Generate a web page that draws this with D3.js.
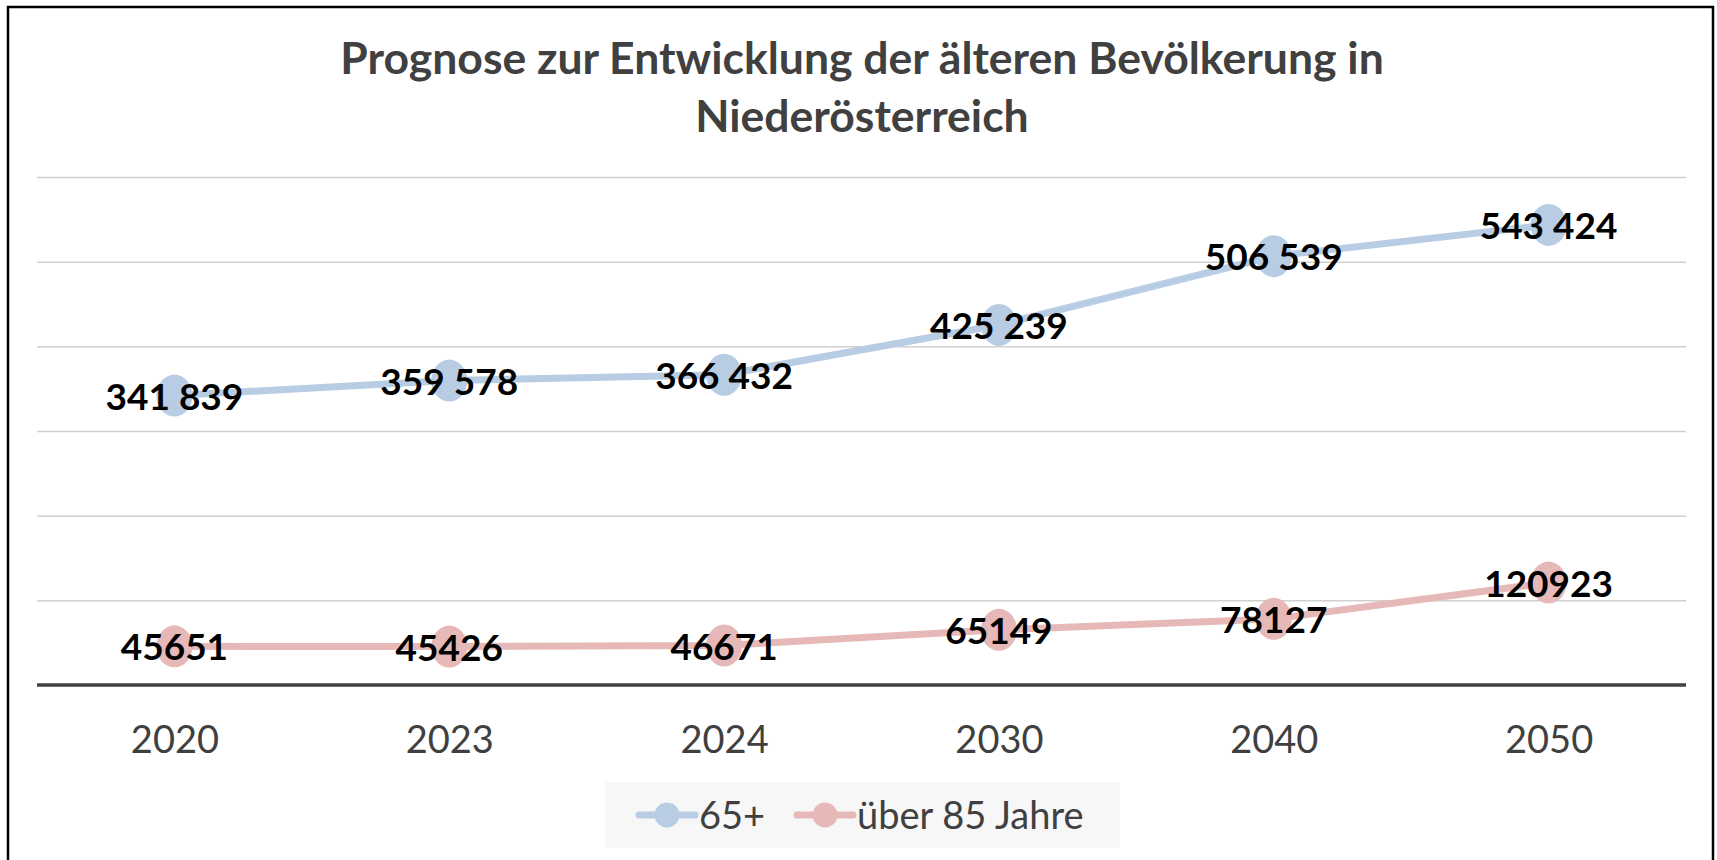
<!DOCTYPE html>
<html>
<head>
<meta charset="utf-8">
<script src="https://cdn.jsdelivr.net/npm/d3@7"></script>
<style>
  html, body { margin: 0; padding: 0; background: #fff; }
  svg { display: block; }
</style>
</head>
<body>
<div id="chart"></div>
<script>
// data
const years = ["2020", "2023", "2024", "2030", "2040", "2050"];
const senior65 = [341839, 359578, 366432, 425239, 506539, 543424];
const over85 = [45651, 45426, 46671, 65149, 78127, 120923];
const labels65 = ["341 839", "359 578", "366 432", "425 239", "506 539", "543 424"];
const labels85 = ["45651", "45426", "46671", "65149", "78127", "120923"];
const seriesNames = ["65+", "über 85 Jahre"];
const titleLines = ["Prognose zur Entwicklung der älteren Bevölkerung in", "Niederösterreich"];
const yTicks = [0, 100000, 200000, 300000, 400000, 500000, 600000];

const W = 1717, H = 860;
const PLOT = { LEFT: 37, RIGHT: 1686, TOP: 177, BOTTOM: 685 };
const COLORS = ["#b8cce4", "#e6b9b8"];
const FONT = "Lato, 'Open Sans', sans-serif";

const svg = d3.select("#chart").append("svg").attr("width", W).attr("height", H);

// outer frame (runs past the bottom edge)
svg.append("rect")
  .attr("x", 8).attr("y", 7)
  .attr("width", 1705).attr("height", 900)
  .attr("fill", "#fff").attr("stroke", "#000").attr("stroke-width", 2.5);

/** Title */
svg.append("g").selectAll("text").data(titleLines).enter().append("text")
  .attr("x", 862)
  .attr("y", (d, i) => 74 + i * 58)
  .attr("text-anchor", "middle")
  .attr("font-family", FONT).attr("font-weight", 700).attr("font-size", 44.5)
  .attr("fill", "#404040")
  .text((d) => d);

/** Scales */
const x = d3.scalePoint().domain(years).range([PLOT.LEFT, PLOT.RIGHT]).padding(0.5);
const y = d3.scaleLinear().domain([0, 600000]).range([PLOT.BOTTOM, PLOT.TOP]);

// gridlines
svg.append("g")
  .attr("transform", `translate(${PLOT.LEFT},0)`)
  .call(d3.axisLeft(y).tickValues(yTicks.slice(1)).tickSize(-(PLOT.RIGHT - PLOT.LEFT)).tickFormat(""))
  .call((g) => g.select(".domain").remove())
  .call((g) => g.selectAll(".tick line").attr("stroke", "#d0d0d0").attr("stroke-width", 1.5));

// x axis
const xAxis = svg.append("g")
  .attr("transform", `translate(0,${PLOT.BOTTOM})`)
  .call(d3.axisBottom(x).tickSize(0).tickPadding(0));
xAxis.select(".domain").remove();
xAxis.append("line")
  .attr("x1", PLOT.LEFT).attr("x2", PLOT.RIGHT)
  .attr("stroke", "#404040").attr("stroke-width", 3.5);
xAxis.selectAll(".tick text")
  .attr("y", 68).attr("dy", 0)
  .attr("font-family", FONT).attr("font-size", 38)
  .attr("fill", "#404040");

/** Series */
const series = [
  { name: seriesNames[0], values: senior65, labels: labels65, color: COLORS[0] },
  { name: seriesNames[1], values: over85, labels: labels85, color: COLORS[1] },
];

const line = d3.line().x((d, i) => x(years[i])).y((d) => y(d));

const marks = svg.append("g");
series.forEach((s) => {
  marks.append("path")
    .datum(s.values)
    .attr("d", line)
    .attr("fill", "none")
    .attr("stroke", s.color).attr("stroke-width", 7)
    .attr("stroke-linejoin", "round");
  marks.selectAll(null).data(s.values).enter().append("ellipse")
    .attr("cx", (d, i) => x(years[i]))
    .attr("cy", (d) => y(d))
    .attr("rx", 18).attr("ry", 21)
    .attr("fill", s.color);
});

// data labels on top
const labelG = svg.append("g");
series.forEach((s) => {
  labelG.selectAll(null).data(s.values).enter().append("text")
    .attr("x", (d, i) => x(years[i]))
    .attr("y", (d) => y(d))
    .attr("dy", "0.38em")
    .attr("text-anchor", "middle")
    .attr("font-family", FONT).attr("font-weight", 700).attr("font-size", 37)
    .attr("fill", "#000")
    .text((d, i) => s.labels[i]);
});

/** Legend */
const legend = svg.append("g");
legend.append("rect")
  .attr("x", 605).attr("y", 782).attr("width", 515).attr("height", 66)
  .attr("fill", "#f7f7f7");
const legendX = [639, 797];
const item = legend.selectAll("g.item").data(series).enter().append("g")
  .attr("class", "item")
  .attr("transform", (d, i) => `translate(${legendX[i]},815)`);
item.append("line")
  .attr("x1", 0).attr("x2", 56)
  .attr("stroke", (d) => d.color).attr("stroke-width", 7).attr("stroke-linecap", "round");
item.append("circle")
  .attr("cx", 28).attr("r", 12.5)
  .attr("fill", (d) => d.color);
item.append("text")
  .attr("x", 60).attr("dy", "0.36em")
  .attr("font-family", FONT).attr("font-size", 38)
  .attr("fill", "#404040")
  .text((d) => d.name);
</script>
</body>
</html>
